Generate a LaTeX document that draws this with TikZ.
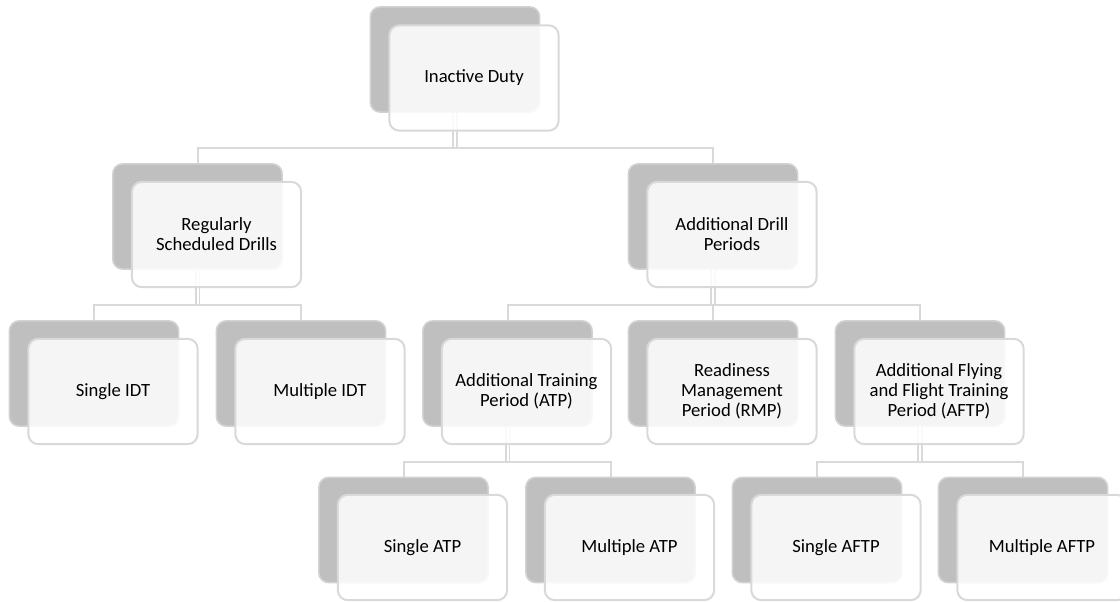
\documentclass[tikz,border=0pt]{standalone}
\usepackage{fontspec}
\setmainfont{Carlito}
\usepackage{xcolor}
\usetikzlibrary{backgrounds}
\definecolor{boxline}{RGB}{217,217,217}
\definecolor{backfill}{RGB}{191,191,191}
\definecolor{backline}{RGB}{210,210,210}

\begin{document}
\begin{tikzpicture}[x=0.75pt,y=0.75pt,yscale=-1,xscale=1,
  backbox/.style={draw=backline, line width=1.2pt, fill=backfill, rounded corners=7.5pt,
    minimum width=127pt, minimum height=79pt, inner sep=0pt},
  frontbox/.style={draw=boxline, line width=1.5pt, fill=white, fill opacity=0.86, text opacity=1,
    rounded corners=7.5pt, minimum width=127pt, minimum height=79pt, inner sep=0pt,
    align=center, font=\fontsize{14}{15}\selectfont},
  link/.style={draw=boxline, line width=1.5pt},
  drop/.style={draw=boxline, line width=1.2pt, double=white, double distance=1.5pt}]
\useasboundingbox (0,0) rectangle (1120,601);

%Shape: Rounded Rectangle [top level]
\node[backbox] (duty-s) at (455,59.5) {};
% Text Node
\node[frontbox] (duty) at (474,78) {Inactive Duty};

%Shape: Rounded Rectangle [second level]
\node[backbox] (rsd-s) at (197.5,216.5) {};
\node[frontbox] (rsd) at (216.5,234.5) {Regularly\\Scheduled Drills};
\node[backbox] (adp-s) at (713,216.5) {};
\node[frontbox] (adp) at (732,234.5) {Additional Drill\\Periods};

%Shape: Rounded Rectangle [third level]
\node[backbox] (sidt-s) at (94,373.5) {};
\node[frontbox] (sidt) at (113,391.5) {Single IDT};
\node[backbox] (midt-s) at (301,373.5) {};
\node[frontbox] (midt) at (320,391.5) {Multiple IDT};
\node[backbox] (atp-s) at (507.5,373.5) {};
\node[frontbox] (atp) at (526.5,391.5) {Additional Training\\Period (ATP)};
\node[backbox] (rmp-s) at (713,373.5) {};
\node[frontbox] (rmp) at (732,391.5) {Readiness\\Management\\Period (RMP)};
\node[backbox] (aftp-s) at (920,373.5) {};
\node[frontbox] (aftp) at (939,391.5) {Additional Flying\\and Flight Training\\Period (AFTP)};

%Shape: Rounded Rectangle [fourth level]
\node[backbox] (satp-s) at (403.5,530) {};
\node[frontbox] (satp) at (422.5,547.5) {Single ATP};
\node[backbox] (matp-s) at (610.5,530) {};
\node[frontbox] (matp) at (629.5,547.5) {Multiple ATP};
\node[backbox] (saftp-s) at (817,530) {};
\node[frontbox] (saftp) at (836,547.5) {Single AFTP};
\node[backbox] (maftp-s) at (1023,530) {};
\node[frontbox] (maftp) at (1042,547.5) {Multiple AFTP};

%Connectors
\coordinate (bar0) at (455,148);
\coordinate (bar1) at (197,305);
\coordinate (bar2) at (713,305);
\coordinate (bar3) at (507,462);
\coordinate (bar4) at (920,462);

\begin{pgfonlayer}{background}
\draw[drop] (duty-s.south) -- (duty-s.south |- bar0);
\draw[link] (rsd-s.north) -- (rsd-s.north |- bar0) -- (adp-s.north |- bar0) -- (adp-s.north);

\draw[drop] (rsd-s.south) -- (rsd-s.south |- bar1);
\draw[link] (sidt-s.north) -- (sidt-s.north |- bar1) -- (midt-s.north |- bar1) -- (midt-s.north);

\draw[drop] (adp-s.south) -- (adp-s.south |- bar2);
\draw[link] (atp-s.north) -- (atp-s.north |- bar2) -- (aftp-s.north |- bar2) -- (aftp-s.north);
\draw[link] (rmp-s.north |- bar2) -- (rmp-s.north);

\draw[drop] (atp-s.south) -- (atp-s.south |- bar3);
\draw[link] (satp-s.north) -- (satp-s.north |- bar3) -- (matp-s.north |- bar3) -- (matp-s.north);

\draw[drop] (aftp-s.south) -- (aftp-s.south |- bar4);
\draw[link] (saftp-s.north) -- (saftp-s.north |- bar4) -- (maftp-s.north |- bar4) -- (maftp-s.north);
\end{pgfonlayer}

\end{tikzpicture}
\end{document}
